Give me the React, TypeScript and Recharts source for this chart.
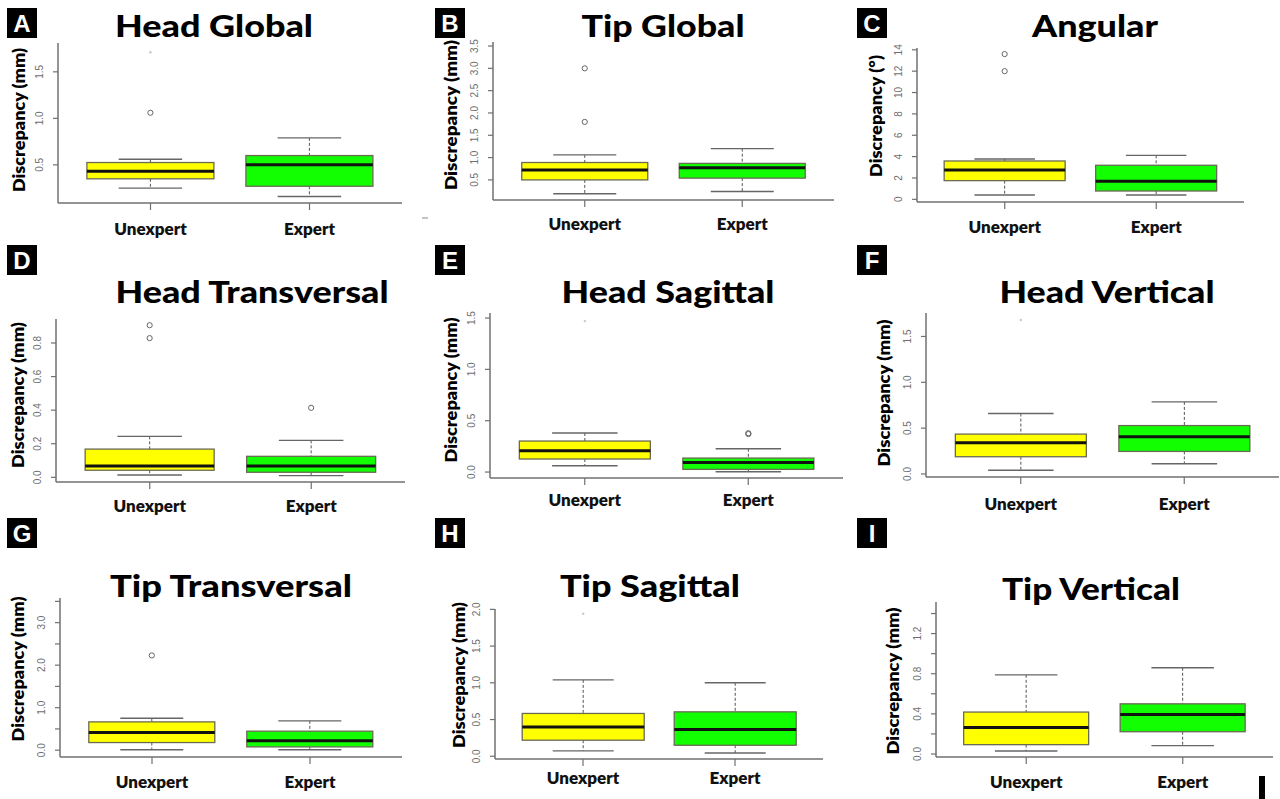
import React from "react";
import { ComposedChart, Bar, XAxis, YAxis } from "recharts";

const categories = ["Unexpert", "Expert"];
const boxColors = ["#ffff00", "#11ff00"];

// stats: [lower whisker, Q1, median, Q3, upper whisker]
const headGlobalUnexpert = [0.25, 0.35, 0.43, 0.525, 0.56];
const headGlobalExpert = [0.16, 0.27, 0.5, 0.6, 0.79];
const headGlobalOutliers = [[0, 1.06]];
const headGlobalFaint = [[0, 1.71]];
const headGlobalTicks = [0.5, 1.0, 1.5];
const headGlobalDomain = [0.09, 1.81];

const tipGlobalUnexpert = [0.19, 0.5, 0.72, 0.89, 1.06];
const tipGlobalExpert = [0.24, 0.54, 0.77, 0.87, 1.2];
const tipGlobalOutliers = [[0, 3.0], [0, 1.8]];
const tipGlobalFaint: number[][] = [];
const tipGlobalTicks = [0.5, 1.0, 1.5, 2.0, 2.5, 3.0, 3.5];
const tipGlobalDomain = [0.05, 3.59];

const angularUnexpert = [0.4, 1.75, 2.75, 3.59, 3.78];
const angularExpert = [0.4, 0.78, 1.69, 3.19, 4.12];
const angularOutliers = [[0, 13.6], [0, 12.0]];
const angularFaint: number[][] = [];
const angularTicks = [0, 2, 4, 6, 8, 10, 12, 14];
const angularDomain = [-0.25, 14.17];

const headTransUnexpert = [0.014, 0.042, 0.067, 0.168, 0.244];
const headTransExpert = [0.01, 0.03, 0.067, 0.125, 0.22];
const headTransOutliers = [[0, 0.906], [0, 0.829], [1, 0.414]];
const headTransFaint: number[][] = [];
const headTransTicks = [0, 0.2, 0.4, 0.6, 0.8];
const headTransDomain = [-0.028, 0.943];

const headSagUnexpert = [0.061, 0.127, 0.207, 0.302, 0.38];
const headSagExpert = [0.003, 0.026, 0.094, 0.136, 0.227];
const headSagOutliers = [[1, 0.37], [1, 0.378]];
const headSagFaint = [[0, 1.47]];
const headSagTicks = [0, 0.5, 1.0, 1.5];
const headSagDomain = [-0.058, 1.549];

const headVertUnexpert = [0.04, 0.188, 0.34, 0.435, 0.659];
const headVertExpert = [0.112, 0.246, 0.405, 0.528, 0.786];
const headVertOutliers: number[][] = [];
const headVertFaint = [[0, 1.68]];
const headVertTicks = [0, 0.5, 1.0, 1.5];
const headVertDomain = [-0.033, 1.756];

const tipTransUnexpert = [0.01, 0.18, 0.416, 0.666, 0.75];
const tipTransExpert = [0.01, 0.078, 0.22, 0.447, 0.69];
const tipTransOutliers = [[0, 2.23]];
const tipTransFaint: number[][] = [];
const tipTransTicks = [0, 0.5, 1.0, 1.5, 2.0, 2.5, 3.0, 3.5];
const tipTransLabeled = [0, 1.0, 2.0, 3.0];
const tipTransDomain = [-0.16, 3.58];

const tipSagUnexpert = [0.073, 0.219, 0.4, 0.583, 1.04];
const tipSagExpert = [0.045, 0.15, 0.365, 0.605, 1.0];
const tipSagOutliers: number[][] = [];
const tipSagFaint = [[0, 1.94]];
const tipSagTicks = [0, 0.5, 1.0, 1.5, 2.0];
const tipSagDomain = [-0.037, 2.005];

const tipVertUnexpert = [0.03, 0.093, 0.265, 0.418, 0.789];
const tipVertExpert = [0.083, 0.222, 0.394, 0.5, 0.859];
const tipVertOutliers: number[][] = [];
const tipVertFaint: number[][] = [];
const tipVertTicks = [0, 0.2, 0.4, 0.6, 0.8, 1.0, 1.2, 1.4];
const tipVertLabeled = [0, 0.4, 0.8, 1.2];
const tipVertDomain = [-0.03, 1.515];

const letters = ["A", "B", "C", "D", "E", "F", "G", "H", "I"];
const titles = [
  "Head Global", "Tip Global", "Angular",
  "Head Transversal", "Head Sagittal", "Head Vertical",
  "Tip Transversal", "Tip Sagittal", "Tip Vertical",
];
const yLabels = [
  "Discrepancy (mm)", "Discrepancy (mm)", "Discrepancy (°)",
  "Discrepancy (mm)", "Discrepancy (mm)", "Discrepancy (mm)",
  "Discrepancy (mm)", "Discrepancy (mm)", "Discrepancy (mm)",
];

// layout (positions only)
const plots = [
  { l: 58, t: 43, r: 402, b: 203 },
  { l: 493, t: 42, r: 834, b: 200 },
  { l: 917, t: 48, r: 1244, b: 202 },
  { l: 56, t: 319, r: 405, b: 482 },
  { l: 490, t: 313, r: 843, b: 478 },
  { l: 926, t: 313, r: 1279, b: 477 },
  { l: 60, t: 598, r: 402, b: 757 },
  { l: 495, t: 609, r: 823, b: 759 },
  { l: 936, t: 602, r: 1273, b: 757 },
];
const letterPos = [
  [7, 8], [435, 8], [857, 8],
  [7, 245], [435, 245], [857, 245],
  [7, 518], [435, 518], [857, 518],
];
const titlePos = [
  [214, 37, 198], [663, 37, 163], [1095, 37, 126],
  [252, 303, 273], [668, 303, 213], [1107, 303, 215],
  [231, 597, 242], [650, 597, 180], [1091, 600, 178],
];
const yLabelPos = [
  [18, 120, 144], [450, 115, 150], [875, 116, 122],
  [17, 395, 146], [450, 390, 145], [883, 393, 147],
  [17, 669, 145], [458, 675, 146], [892, 681, 147],
];
const catOffsets = [32, 30, 31, 30, 28, 33, 31, 25, 31];

const panelData = [
  [headGlobalUnexpert, headGlobalExpert, headGlobalOutliers, headGlobalFaint, headGlobalTicks, headGlobalTicks, headGlobalDomain, 1],
  [tipGlobalUnexpert, tipGlobalExpert, tipGlobalOutliers, tipGlobalFaint, tipGlobalTicks, tipGlobalTicks, tipGlobalDomain, 1],
  [angularUnexpert, angularExpert, angularOutliers, angularFaint, angularTicks, angularTicks, angularDomain, 0],
  [headTransUnexpert, headTransExpert, headTransOutliers, headTransFaint, headTransTicks, headTransTicks, headTransDomain, 1],
  [headSagUnexpert, headSagExpert, headSagOutliers, headSagFaint, headSagTicks, headSagTicks, headSagDomain, 1],
  [headVertUnexpert, headVertExpert, headVertOutliers, headVertFaint, headVertTicks, headVertTicks, headVertDomain, 1],
  [tipTransUnexpert, tipTransExpert, tipTransOutliers, tipTransFaint, tipTransTicks, tipTransLabeled, tipTransDomain, 1],
  [tipSagUnexpert, tipSagExpert, tipSagOutliers, tipSagFaint, tipSagTicks, tipSagTicks, tipSagDomain, 1],
  [tipVertUnexpert, tipVertExpert, tipVertOutliers, tipVertFaint, tipVertTicks, tipVertLabeled, tipVertDomain, 1],
] as any[];

const YW = 45;
const MT = 14;
const MR = 3;
const XH = 45;
const AXIS = "#707070";
const TITLE_FONT = "Lato, 'Open Sans', sans-serif";

function BoxShape(props: any) {
  const { x, y, width, height, payload } = props;
  const [lo, q1, med, q3, hi] = payload.stats as number[];
  const k = height / (q3 - q1);
  const py = (v: number) => y + height - (v - q1) * k;
  const cx = x + width / 2;
  const capL = x + width / 4;
  const capR = x + (3 * width) / 4;
  return (
    <g>
      <line x1={cx} x2={cx} y1={py(hi)} y2={y} stroke="#555" strokeWidth={1} strokeDasharray="3 2" />
      <line x1={cx} x2={cx} y1={y + height} y2={py(lo)} stroke="#555" strokeWidth={1} strokeDasharray="3 2" />
      <line x1={capL} x2={capR} y1={py(hi)} y2={py(hi)} stroke="#666" strokeWidth={1.4} />
      <line x1={capL} x2={capR} y1={py(lo)} y2={py(lo)} stroke="#666" strokeWidth={1.4} />
      <rect x={x} y={y} width={width} height={height} fill={payload.color} stroke="#6a6a55" strokeWidth={1.3} />
      <line x1={x} x2={x + width} y1={py(med)} y2={py(med)} stroke="#111" strokeWidth={3} />
      {(payload.outliers as number[]).map((v, i) => (
        <circle key={"o" + i} cx={cx} cy={py(v)} r={2.6} fill="none" stroke="#666" strokeWidth={1} />
      ))}
      {(payload.faint as number[]).map((v, i) => (
        <circle key={"f" + i} cx={cx} cy={py(v)} r={1.2} fill="#c8c8c8" stroke="none" />
      ))}
    </g>
  );
}

function Panel({ idx }: { idx: number }) {
  const [uStats, eStats, outliers, faint, ticks, labeled, domain, digits] = panelData[idx];
  const p = plots[idx];
  const pw = p.r - p.l;
  const ph = p.b - p.t;
  const pad = Math.round(pw * 0.037);
  const groups = [uStats, eStats];
  const data = categories.map((name, i) => ({
    name,
    range: [groups[i][1], groups[i][3]],
    stats: groups[i],
    color: boxColors[i],
    outliers: (outliers as number[][]).filter((o) => o[0] === i).map((o) => o[1]),
    faint: (faint as number[][]).filter((o) => o[0] === i).map((o) => o[1]),
  }));
  const axisY = MT + ph;
  const catOffset = catOffsets[idx];

  const YTick = (tp: any) => {
    const v = tp.payload.value as number;
    if (!(labeled as number[]).some((l) => Math.abs(l - v) < 1e-9)) return <g />;
    const cx = YW - 18;
    return (
      <text
        x={cx}
        y={tp.y}
        transform={`rotate(-90 ${cx} ${tp.y})`}
        textAnchor="middle"
        dominantBaseline="central"
        fontSize={10}
        fill="#6e6e6e"
        fontFamily="'Liberation Sans', Arial, sans-serif"
      >
        {v.toFixed(digits)}
      </text>
    );
  };
  const XTick = (tp: any) => (
    <text
      x={tp.x}
      y={axisY + catOffset}
      textAnchor="middle"
      fontSize={17}
      fontWeight={800}
      fill="#111"
      fontFamily={TITLE_FONT}
    >
      {tp.payload.value}
    </text>
  );

  return (
    <div style={{ position: "absolute", left: p.l - YW, top: p.t - MT }}>
      <ComposedChart
        width={YW + pw + MR}
        height={MT + ph + XH}
        data={data}
        margin={{ top: MT, right: MR, bottom: 0, left: 0 }}
        barCategoryGap="10%"
      >
        <XAxis
          dataKey="name"
          padding={{ left: pad, right: pad }}
          height={XH}
          tickSize={7}
          tickLine={{ stroke: AXIS, strokeWidth: 1.2 }}
          axisLine={{ stroke: AXIS, strokeWidth: 1.5 }}
          tick={XTick}
          interval={0}
        />
        <YAxis
          type="number"
          width={YW}
          domain={domain}
          allowDataOverflow
          ticks={ticks}
          interval={0}
          tickSize={5}
          tickLine={{ stroke: AXIS, strokeWidth: 1.2 }}
          axisLine={{ stroke: AXIS, strokeWidth: 1.5 }}
          tick={YTick}
        />
        <Bar dataKey="range" shape={BoxShape} isAnimationActive={false} />
      </ComposedChart>
    </div>
  );
}

export default function App() {
  return (
    <div
      style={{
        position: "absolute",
        left: 0,
        top: 0,
        width: 1280,
        height: 799,
        background: "#fff",
        overflow: "hidden",
      }}
    >
      <svg width={1280} height={799} style={{ position: "absolute", left: 0, top: 0 }}>
        {letters.map((L, i) => (
          <g key={L}>
            <rect x={letterPos[i][0]} y={letterPos[i][1]} width={30} height={30} fill="#000" />
            <text
              x={letterPos[i][0] + 15}
              y={letterPos[i][1] + 24}
              textAnchor="middle"
              fontSize={24}
              fontWeight={700}
              fill="#fff"
              fontFamily="'Liberation Sans', Arial, sans-serif"
            >
              {L}
            </text>
          </g>
        ))}
        {titles.map((t, i) => (
          <text
            key={t}
            x={titlePos[i][0] - titlePos[i][2] / 2}
            y={titlePos[i][1]}
            fontSize={31}
            fontWeight={900}
            fill="#000"
            fontFamily={TITLE_FONT}
            textLength={titlePos[i][2]}
            lengthAdjust="spacingAndGlyphs"
          >
            {t}
          </text>
        ))}
        {yLabels.map((t, i) => {
          const [cx, cy, len] = yLabelPos[i];
          return (
            <text
              key={i}
              x={cx}
              y={cy}
              transform={`rotate(-90 ${cx} ${cy})`}
              textAnchor="middle"
              dominantBaseline="central"
              fontSize={16}
              fontWeight={800}
              fill="#000"
              fontFamily={TITLE_FONT}
              textLength={len}
              lengthAdjust="spacingAndGlyphs"
            >
              {t}
            </text>
          );
        })}
        <line x1={422} x2={428} y1={218} y2={218} stroke="#888" strokeWidth={1} />
        <rect x={1259} y={776} width={6} height={23} fill="#000" />
      </svg>
      {letters.map((L, i) => (
        <Panel key={L} idx={i} />
      ))}
    </div>
  );
}
